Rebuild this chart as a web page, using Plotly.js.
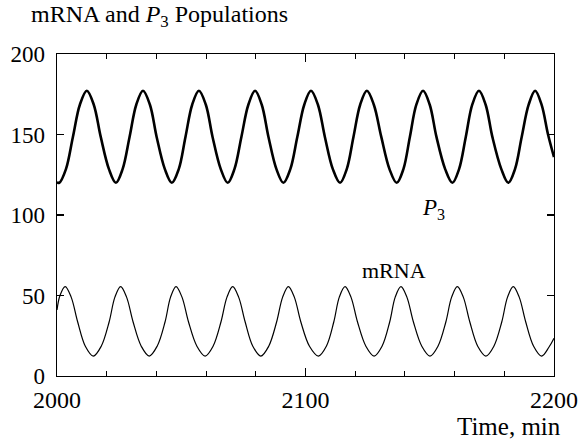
<!DOCTYPE html>
<html>
<head>
<meta charset="utf-8">
<script src="https://cdn.plot.ly/plotly-3.0.1.min.js"></script>
<style>
html,body{margin:0;padding:0;background:#fff;}
#chart{width:578px;height:439px;}
</style>
</head>
<body>
<div id="chart"></div>
<script>
// P3 protein population (time in min)
const p3Time = [2000.0,2000.9,2003.6,2006.4,2009.2,2012.0,2014.8,2017.6,2020.9,
  2023.7,2026.4,2029.2,2031.9,2034.6,2037.4,2040.1,2043.4,
  2046.2,2049.0,2051.7,2054.4,2057.1,2059.9,2062.6,2065.9,
  2068.7,2071.4,2074.2,2077.0,2079.7,2082.4,2085.1,2088.3,
  2091.1,2093.9,2096.7,2099.5,2102.2,2105.0,2107.8,2111.0,
  2113.9,2116.6,2119.3,2122.0,2124.7,2127.5,2130.5,2133.8,
  2136.7,2139.4,2142.0,2144.6,2147.3,2150.0,2152.7,2156.2,
  2159.1,2161.8,2164.5,2167.1,2169.8,2172.5,2175.2,2178.8,
  2181.6,2184.3,2187.0,2189.8,2192.4,2195.0,2197.6,2200.0];
const p3Value = [120.4,120.0,128.5,148.5,168.5,177.2,168.5,148.5,128.5,
  120.0,128.5,148.5,168.5,177.2,168.5,148.5,128.5,
  120.0,128.5,148.5,168.5,177.2,168.5,148.5,128.5,
  120.0,128.5,148.5,168.5,177.2,168.5,148.5,128.5,
  120.0,128.5,148.5,168.5,177.2,168.5,148.5,128.5,
  120.0,128.5,148.5,168.5,177.2,168.5,148.5,128.5,
  120.0,128.5,148.5,168.5,177.2,168.5,148.5,128.5,
  120.0,128.5,148.5,168.5,177.2,168.5,148.5,128.5,
  120.0,128.5,148.5,168.5,177.2,168.5,150.0,136.0];

// mRNA population
const mrnaTime = [2000.0,2001.2,2003.3,2005.7,2008.3,2011.4,2014.6,2017.8,2021.0,2023.3,
  2025.6,2028.0,2030.6,2033.9,2037.1,2040.3,2043.5,2045.7,
  2047.9,2050.3,2052.9,2056.3,2059.6,2062.8,2066.0,2068.4,
  2070.7,2073.1,2075.7,2078.8,2082.0,2085.2,2088.4,2090.8,
  2093.1,2095.5,2098.1,2101.6,2105.2,2108.4,2111.4,2113.6,
  2115.9,2118.3,2120.9,2124.3,2127.6,2130.8,2133.9,2136.1,
  2138.4,2140.8,2143.4,2146.8,2150.1,2153.3,2156.5,2158.8,
  2161.1,2163.5,2166.1,2169.3,2172.6,2175.8,2179.0,2181.3,
  2183.6,2186.0,2188.6,2191.8,2195.0,2198.0,2200.0];
const mrnaValue = [41.0,50.0,55.5,49.0,33.7,18.5,12.4,18.5,33.7,49.0,
  55.5,49.0,33.7,18.5,12.4,18.5,33.7,49.0,
  55.5,49.0,33.7,18.5,12.4,18.5,33.7,49.0,
  55.5,49.0,33.7,18.5,12.4,18.5,33.7,49.0,
  55.5,49.0,33.7,18.5,12.4,18.5,33.7,49.0,
  55.5,49.0,33.7,18.5,12.4,18.5,33.7,49.0,
  55.5,49.0,33.7,18.5,12.4,18.5,33.7,49.0,
  55.5,49.0,33.7,18.5,12.4,18.5,33.7,49.0,
  55.5,49.0,33.7,18.5,12.4,18.0,23.5];

const xTicks = [2000, 2100, 2200];
const yTicks = [0, 50, 100, 150, 200];

const serif = 'Liberation Serif';

const traces = [
  {x: p3Time, y: p3Value, type: 'scatter', mode: 'lines', name: 'P3',
   line: {color: '#000', width: 2.6, shape: 'spline', smoothing: 1}, hoverinfo: 'skip'},
  {x: mrnaTime, y: mrnaValue, type: 'scatter', mode: 'lines', name: 'mRNA',
   line: {color: '#000', width: 1.2, shape: 'spline', smoothing: 1}, hoverinfo: 'skip'}
];

const layout = {
  width: 578, height: 439,
  margin: {l: 57, r: 24, t: 54, b: 63},
  paper_bgcolor: '#fff', plot_bgcolor: '#fff',
  showlegend: false,
  font: {family: serif, color: '#000', size: 23},
  title: {text: 'mRNA and <i>P</i><sub>3</sub> Populations', font: {family: serif, size: 24, color: '#000'},
          xref: 'container', yref: 'container', x: 31/578, xanchor: 'left', y: 1 - 5/439, yanchor: 'top'},
  xaxis: {
    range: [2000, 2200], tickvals: xTicks, ticktext: xTicks.map(String),
    ticks: 'inside', ticklen: 8, tickwidth: 1.2, tickcolor: '#000',
    minor: {dtick: 20, tick0: 2000, ticks: 'inside', ticklen: 5, tickwidth: 1, tickcolor: '#000', showgrid: false},
    showline: true, linecolor: '#000', linewidth: 1.4, mirror: 'ticks',
    showgrid: false, zeroline: false, ticklabelstandoff: 2,
    tickfont: {family: serif, size: 24, color: '#000'}
  },
  yaxis: {
    range: [0, 200], tickvals: yTicks, ticktext: yTicks.map(String),
    ticks: 'inside', ticklen: 7, tickwidth: 1.2, tickcolor: '#000',
    showline: true, linecolor: '#000', linewidth: 1.4, mirror: 'ticks',
    showgrid: false, zeroline: false, ticklabelstandoff: 6,
    tickfont: {family: serif, size: 23, color: '#000'}
  },
  annotations: [
    {text: '<i>P</i><sub>3</sub>', x: 2151.7, y: 103.7, xref: 'x', yref: 'y', showarrow: false,
     font: {family: serif, size: 23, color: '#000'}},
    {text: 'mRNA', x: 2135.5, y: 65.8, xref: 'x', yref: 'y', showarrow: false,
     font: {family: serif, size: 22, color: '#000'}},
    {text: 'Time, min', x: 1.018, y: -0.156, xref: 'paper', yref: 'paper', xanchor: 'right', yanchor: 'middle',
     showarrow: false, font: {family: serif, size: 25, color: '#000'}}
  ]
};

Plotly.newPlot('chart', traces, layout, {displayModeBar: false, staticPlot: true});
</script>
</body>
</html>
